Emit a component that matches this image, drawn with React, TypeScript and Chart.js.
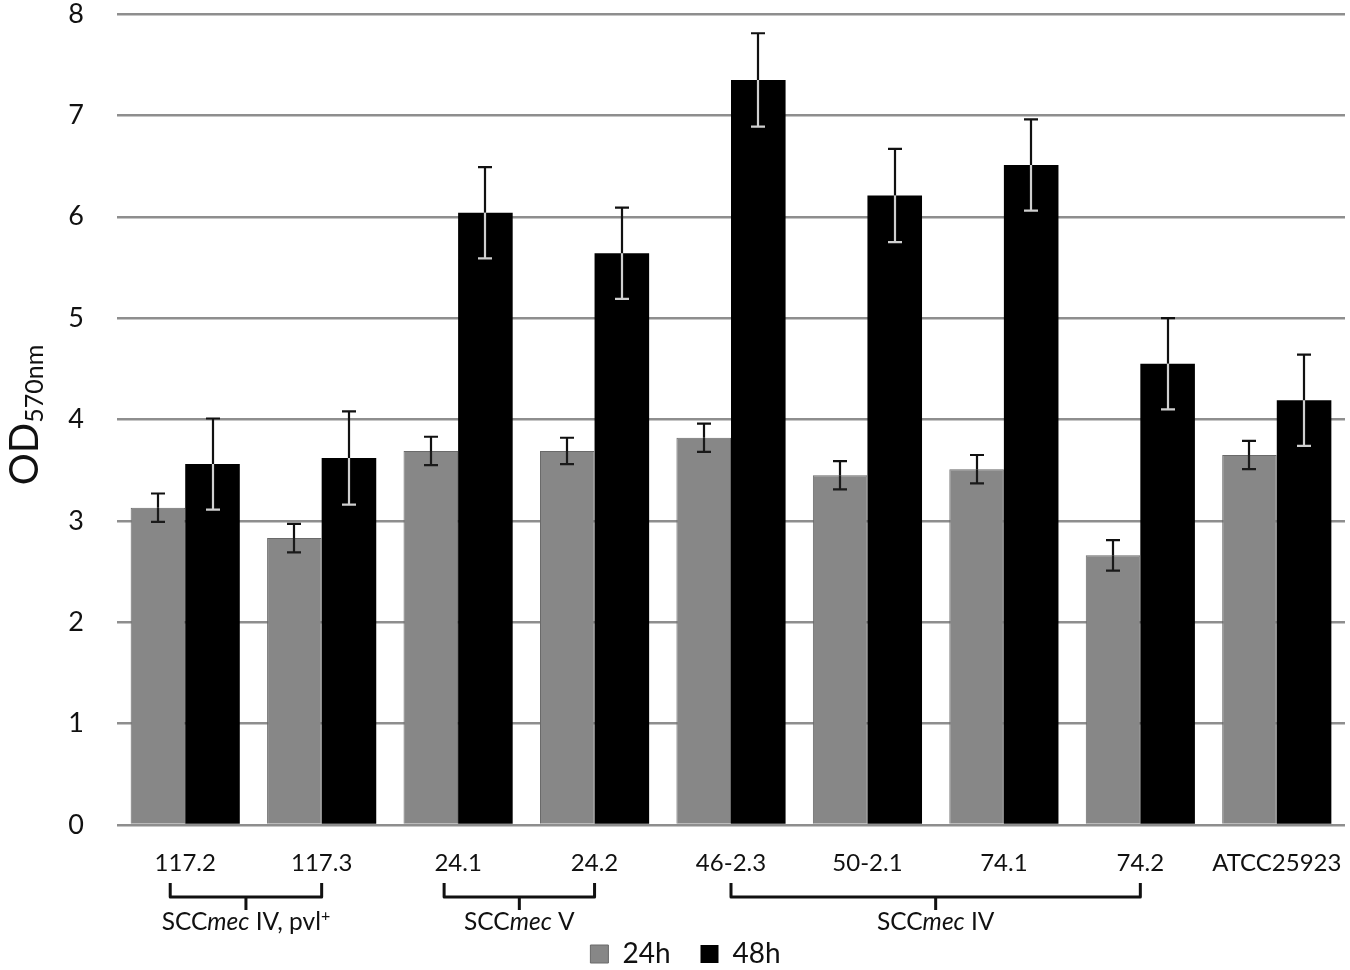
import { useEffect, useRef } from 'react';
import { Chart, registerables } from 'chart.js';

Chart.register(...registerables);

const strains = ['117.2', '117.3', '24.1', '24.2', '46-2.3', '50-2.1', '74.1', '74.2', 'ATCC25923'];
const od24h = [3.13, 2.83, 3.69, 3.69, 3.82, 3.45, 3.51, 2.66, 3.65];
const od48h = [3.56, 3.62, 6.04, 5.64, 7.35, 6.21, 6.51, 4.55, 4.19];
const err24h = [0.14, 0.14, 0.14, 0.13, 0.14, 0.14, 0.14, 0.15, 0.14];
const err48h = [0.45, 0.46, 0.45, 0.45, 0.46, 0.46, 0.45, 0.45, 0.45];
const yTicks = [0, 1, 2, 3, 4, 5, 6, 7, 8];

// SCCmec groups: first/last strain index, text after the italic "mec", superscript
const groupFirst = [0, 2, 4];
const groupLast = [1, 3, 7];
const groupType = [' IV, pvl', ' V', ' IV'];
const groupSup = ['+', '', ''];

const FONT = 'Lato, "Open Sans", sans-serif';

const errorBars = {
  id: 'errorBars',
  afterDatasetsDraw(chart: Chart) {
    const { ctx } = chart;
    const y = chart.scales.y;
    const errs = [err24h, err48h];
    const inner = ['#1a1a1a', '#cfcfcf'];
    chart.data.datasets.forEach((ds, di) => {
      const meta = chart.getDatasetMeta(di);
      meta.data.forEach((bar: any, i) => {
        const v = ds.data[i] as number;
        const e = errs[di][i];
        const x = Math.round(bar.x);
        const top = y.getPixelForValue(v + e);
        const bot = y.getPixelForValue(v - e);
        const mid = bar.y;
        ctx.save();
        ctx.lineWidth = 2.2;
        ctx.strokeStyle = '#111';
        ctx.beginPath();
        ctx.moveTo(x, top);
        ctx.lineTo(x, mid);
        ctx.moveTo(x - 7, top);
        ctx.lineTo(x + 7, top);
        ctx.stroke();
        ctx.strokeStyle = inner[di];
        ctx.beginPath();
        ctx.moveTo(x, mid);
        ctx.lineTo(x, bot);
        ctx.moveTo(x - 7, bot);
        ctx.lineTo(x + 7, bot);
        ctx.stroke();
        ctx.restore();
      });
    });
  },
};

const extras = {
  id: 'extras',
  afterDraw(chart: Chart) {
    const { ctx } = chart;
    const x = chart.scales.x;

    // y axis title OD570nm
    ctx.save();
    ctx.translate(38, 415);
    ctx.rotate(-Math.PI / 2);
    ctx.fillStyle = '#111';
    ctx.textAlign = 'left';
    ctx.textBaseline = 'alphabetic';
    ctx.font = `40px ${FONT}`;
    const w1 = ctx.measureText('OD').width;
    ctx.font = `25px ${FONT}`;
    const w2 = ctx.measureText('570nm').width;
    const start = -(w1 + w2) / 2;
    ctx.font = `40px ${FONT}`;
    ctx.fillText('OD', start, 0);
    ctx.font = `25px ${FONT}`;
    ctx.fillText('570nm', start + w1, 5);
    ctx.restore();

    // brackets and group labels
    const nudge = [-15, -14, 0];
    groupFirst.forEach((f, g) => {
      const x0 = x.getPixelForValue(f) + nudge[g];
      const x1 = x.getPixelForValue(groupLast[g]);
      const xm = (x0 + x1) / 2;
      ctx.save();
      ctx.strokeStyle = '#111';
      ctx.lineWidth = 3;
      ctx.lineJoin = 'round';
      ctx.beginPath();
      ctx.moveTo(x0, 883);
      ctx.lineTo(x0, 897);
      ctx.lineTo(x1, 897);
      ctx.lineTo(x1, 883);
      ctx.moveTo(xm, 897);
      ctx.lineTo(xm, 910);
      ctx.stroke();

      const parts = [
        { t: 'SCC', f: `24.5px ${FONT}`, dy: 0 },
        { t: 'mec', f: `italic 24.5px ${FONT}`, dy: 0 },
        { t: groupType[g], f: `24.5px ${FONT}`, dy: 0 },
        { t: groupSup[g], f: `16px ${FONT}`, dy: -9 },
      ];
      let total = 0;
      parts.forEach((p) => {
        ctx.font = p.f;
        total += ctx.measureText(p.t).width;
      });
      let cx = xm - total / 2;
      ctx.fillStyle = '#111';
      ctx.textBaseline = 'alphabetic';
      ctx.textAlign = 'left';
      parts.forEach((p) => {
        ctx.font = p.f;
        ctx.fillText(p.t, cx, 930 + p.dy);
        cx += ctx.measureText(p.t).width;
      });
      ctx.restore();
    });
  },
};

export default function App() {
  const canvasRef = useRef<HTMLCanvasElement>(null);
  const chartRef = useRef<Chart | null>(null);

  useEffect(() => {
    document.body.style.margin = '0';
    if (!canvasRef.current) return;
    if (chartRef.current) chartRef.current.destroy();

    chartRef.current = new Chart(canvasRef.current, {
      type: 'bar',
      data: {
        labels: strains,
        datasets: [
          {
            label: '24h',
            data: od24h,
            backgroundColor: '#878787',
            borderColor: '#6a6a6a',
            borderWidth: 1,
          },
          {
            label: '48h',
            data: od48h,
            backgroundColor: '#000',
            borderColor: '#000',
            borderWidth: 0,
          },
        ],
      },
      options: {
        responsive: true,
        maintainAspectRatio: false,
        animation: false,
        layout: { padding: { top: 14, right: 5, left: 26, bottom: -8 } },
        datasets: { bar: { categoryPercentage: 0.8, barPercentage: 1.0 } },
        plugins: {
          tooltip: { enabled: false },
          legend: {
            position: 'bottom',
            labels: {
              boxWidth: 18,
              boxHeight: 18,
              padding: 30,
              color: '#111',
              font: { family: FONT, size: 28 },
            },
          },
        },
        scales: {
          x: {
            grid: { display: false, drawTicks: false },
            border: { display: false },
            ticks: {
              padding: 24,
              color: '#111',
              font: { family: FONT, size: 24 },
              maxRotation: 0,
            },
            afterFit: (scale: any) => {
              scale.height = 85;
              scale.paddingLeft = 0;
              scale.paddingRight = 0;
            },
          },
          y: {
            min: 0,
            max: 8,
            afterBuildTicks: (scale: any) => {
              scale.ticks = yTicks.map((v) => ({ value: v }));
            },
            grid: { color: '#8e8e8e', lineWidth: 2.5, drawTicks: false },
            border: { display: false },
            ticks: {
              padding: 33,
              color: '#111',
              font: { family: FONT, size: 27 },
            },
            afterFit: (scale: any) => {
              scale.width = 91;
              scale.paddingTop = 0;
              scale.paddingBottom = 0;
            },
          },
        },
      },
      plugins: [errorBars, extras],
    });

    return () => chartRef.current?.destroy();
  }, []);

  return (
    <div style={{ width: 1350, height: 970, position: 'relative', background: '#fff' }}>
      <canvas ref={canvasRef} />
    </div>
  );
}
